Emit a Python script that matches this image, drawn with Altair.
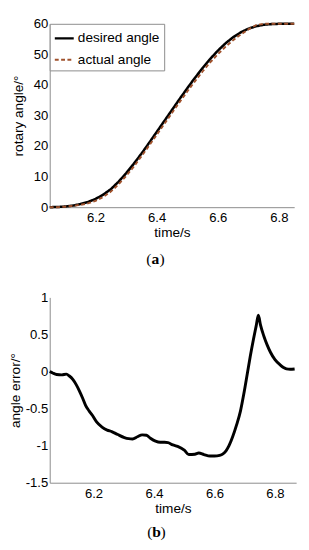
import altair as alt
import pandas as pd

# ---- data ----
time_a = [6.05, 6.075, 6.1, 6.125, 6.15, 6.175, 6.2, 6.225, 6.25, 6.275, 6.3, 6.325,
          6.35, 6.375, 6.4, 6.425, 6.45, 6.475, 6.5, 6.525, 6.55, 6.575, 6.6, 6.625,
          6.65, 6.675, 6.7, 6.725, 6.75, 6.775, 6.8, 6.825, 6.85]
desired_angle = [0.0, 0.05, 0.2, 0.5, 1.0, 1.7, 2.7, 4.1, 5.9, 8.3, 11.1, 14.2,
                 17.5, 21.0, 24.6, 28.2, 31.8, 35.4, 38.9, 42.3, 45.5, 48.5, 51.2, 53.6,
                 55.6, 57.2, 58.4, 59.2, 59.7, 59.9, 60.0, 60.0, 60.0]
actual_angle = [0.0, 0.01, 0.17, 0.42, 0.77, 1.23, 2.09, 3.36, 5.1, 7.45, 10.21, 13.29,
                16.63, 20.13, 23.68, 27.24, 30.83, 34.39, 37.84, 41.18, 44.4, 47.37, 50.06, 52.48,
                54.63, 56.52, 58.18, 59.56, 60.0, 60.0, 60.0, 60.0, 60.0]

time_b = [6.055, 6.065, 6.078, 6.095, 6.11, 6.12, 6.132, 6.143, 6.153, 6.164, 6.174, 6.185,
          6.196, 6.21, 6.228, 6.245, 6.26, 6.28, 6.302, 6.316, 6.329, 6.345, 6.361, 6.375,
          6.388, 6.405, 6.42, 6.435, 6.446, 6.462, 6.478, 6.5, 6.515, 6.535, 6.548, 6.565,
          6.585, 6.6, 6.617, 6.628, 6.638, 6.648, 6.66, 6.673, 6.686, 6.697, 6.708, 6.718,
          6.729, 6.738, 6.745, 6.752, 6.763, 6.774, 6.785, 6.8, 6.817, 6.828, 6.838, 6.85, 6.865]
angle_error = [0.0, -0.02, -0.04, -0.045, -0.035, -0.06, -0.11, -0.18, -0.26, -0.36, -0.46, -0.53,
               -0.59, -0.68, -0.75, -0.79, -0.81, -0.85, -0.89, -0.905, -0.91, -0.88, -0.855, -0.86,
               -0.9, -0.94, -0.955, -0.955, -0.96, -0.99, -1.01, -1.06, -1.12, -1.115, -1.1, -1.12,
               -1.14, -1.14, -1.13, -1.11, -1.07, -1.0, -0.88, -0.72, -0.53, -0.3, -0.04, 0.2,
               0.44, 0.62, 0.76, 0.63, 0.48, 0.36, 0.26, 0.16, 0.09, 0.055, 0.035, 0.03, 0.035]

series_names = ["desired angle", "actual angle"]
series_colors = ["#000000", "#a0522d"]
series_dash = [[1, 0], [4, 2.5]]

x_ticks_a = [6.2, 6.4, 6.6, 6.8]
y_ticks_a = [0, 10, 20, 30, 40, 50, 60]
x_ticks_b = [6.2, 6.4, 6.6, 6.8]
y_ticks_b = [-1.5, -1, -0.5, 0, 0.5, 1]

FONT = "Liberation Sans"
SERIF = "Liberation Serif"

df_des = pd.DataFrame({"time": time_a, "angle": desired_angle, "series": series_names[0]})
df_act = pd.DataFrame({"time": time_a, "angle": actual_angle, "series": series_names[1]})
df_err = pd.DataFrame({"time": time_b, "err": angle_error})
one = pd.DataFrame({"k": [0]})

color_enc = alt.Color("series:N",
                      scale=alt.Scale(domain=series_names, range=series_colors),
                      legend=alt.Legend(title=None, orient="top-left", offset=0, padding=4,
                                        strokeColor="#8a8a8a", fillColor="white",
                                        symbolType="stroke", symbolSize=380,
                                        symbolStrokeWidth=2.2, labelFontSize=14,
                                        labelFont=FONT, labelColor="black",
                                        rowPadding=4, labelOffset=3, cornerRadius=0))
dash_enc = alt.StrokeDash("series:N",
                          scale=alt.Scale(domain=series_names, range=series_dash),
                          legend=alt.Legend(title=None))

xa = alt.X("time:Q", scale=alt.Scale(domain=[6.05, 6.85], nice=False, zero=False),
           axis=alt.Axis(values=x_ticks_a, format=".1f", title="time/s", titlePadding=2,
                         labelPadding=4))
ya = alt.Y("angle:Q", scale=alt.Scale(domain=[0, 60], nice=False),
           axis=alt.Axis(values=y_ticks_a, title="rotary angle/°", titlePadding=8,
                         labelPadding=2))

line_des = alt.Chart(df_des).mark_line(strokeWidth=2.6).encode(
    x=xa, y=ya, color=color_enc, strokeDash=dash_enc)
line_act = alt.Chart(df_act).mark_line(strokeWidth=2.0).encode(
    x=xa, y=ya, color=color_enc, strokeDash=dash_enc)


def label(letter, xc, yc):
    p1 = alt.Chart(one).mark_text(text="(", font=SERIF, fontSize=16, color="black",
                                  align="center", baseline="middle").encode(
        x=alt.value(xc - 6.8), y=alt.value(yc))
    p2 = alt.Chart(one).mark_text(text=letter, font=SERIF, fontSize=16, fontWeight="bold",
                                  color="black", align="center", baseline="middle").encode(
        x=alt.value(xc), y=alt.value(yc))
    p3 = alt.Chart(one).mark_text(text=")", font=SERIF, fontSize=16, color="black",
                                  align="center", baseline="middle").encode(
        x=alt.value(xc + 6.8), y=alt.value(yc))
    return [p1, p2, p3]


top = alt.layer(line_des, line_act, *label("a", 109, 243)).properties(width=252, height=189)

xb = alt.X("time:Q", scale=alt.Scale(domain=[6.055, 6.87], nice=False, zero=False),
           axis=alt.Axis(values=x_ticks_b, format=".1f", title="time/s", titlePadding=2,
                         labelPadding=4))
yb = alt.Y("err:Q", scale=alt.Scale(domain=[-1.5, 1], nice=False, zero=False),
           axis=alt.Axis(values=y_ticks_b, labelExpr="'' + datum.value",
                         title="angle error/°", titlePadding=3, labelPadding=2))

line_err = alt.Chart(df_err).mark_line(strokeWidth=3, color="black",
                                       interpolate="monotone").encode(x=xb, y=yb)

bottom = alt.layer(line_err, *label("b", 110, 242)).properties(width=254, height=191)

chart = alt.vconcat(top, bottom, spacing=22).properties(
    padding={"left": 0, "top": 0, "right": 0, "bottom": 0},
    background="white"
).configure_view(stroke="transparent").configure_axis(
    grid=False, ticks=False, domainColor="#8a8a8a", domainWidth=1,
    labelFont=FONT, labelFontSize=13.5, labelColor="black",
    titleFont=FONT, titleFontSize=14, titleFontWeight="normal", titleColor="black"
)

chart.save("out.html", embed_options={"renderer": "svg", "actions": False})
